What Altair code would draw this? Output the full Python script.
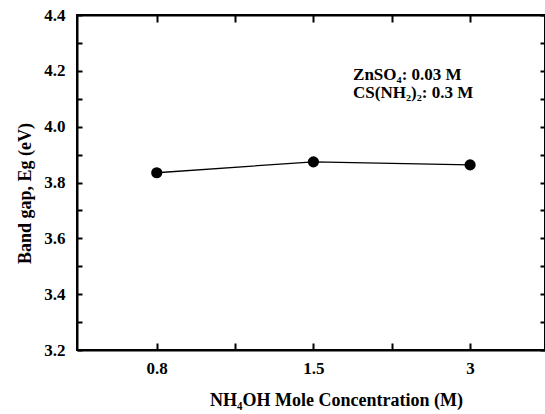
import json
import altair as alt
import pandas as pd

# ---- data ----
conc_labels = ["0.8", "1.5", "3"]          # NH4OH mole concentration (M), category labels
conc_index = [0, 1, 2]                     # equally spaced category positions
band_gap = [3.835, 3.874, 3.863]           # Eg (eV)

x_tick_values = [0, 0.5, 1, 1.5, 2]        # major at categories, minor halfway
y_tick_values = [3.2, 3.3, 3.4, 3.5, 3.6, 3.7, 3.8, 3.9, 4.0, 4.1, 4.2, 4.3, 4.4]

note_lines = ["ZnSO\u2084: 0.03 M", "CS(NH\u2082)\u2082: 0.3 M"]
note_x = [1.253, 1.253]
note_y = [4.167, 4.101]

x_title = "NH\u2084OH Mole Concentration (M)"
y_title = "Band gap, Eg (eV)"

W, H = 468, 335
FONT = "Liberation Serif"

df = pd.DataFrame({"idx": conc_index, "label": conc_labels, "eg": band_gap})
notes = pd.DataFrame({"nx": note_x, "ny": note_y, "text": note_lines})

xscale = alt.Scale(domain=[-0.509, 2.478], nice=False, zero=False)
yscale = alt.Scale(domain=[3.2, 4.4], nice=False, zero=False)

x_label_expr = ("datum.value % 1 === 0 ? " + json.dumps(conc_labels)
                + "[datum.value] : ''")
y_label_expr = "round(datum.value * 10) % 2 === 0 ? format(datum.value, '.1f') : ''"

# main line; its axes carry labels, titles and inward ticks (negative tick size)
line = alt.Chart(df).mark_line(color="black", strokeWidth=1.3).encode(
    x=alt.X("idx:Q", scale=xscale, axis=alt.Axis(
        orient="bottom", values=x_tick_values, labelExpr=x_label_expr,
        ticks=True, tickSize={"expr": "-7"}, tickWidth=2, labelPadding=17,
        domain=True, domainWidth=2,
        title=x_title, titleX=259, titleY=55, titleBaseline="alphabetic",
        titleAlign="center", titleFontSize=18, labelFontSize=17)),
    y=alt.Y("eg:Q", scale=yscale, axis=alt.Axis(
        orient="left", values=y_tick_values, labelExpr=y_label_expr,
        ticks=True, tickSize={"expr": "-5"}, tickWidth=2, labelPadding=17,
        domain=True, domainWidth=2,
        title=y_title, titleX=-52, titleY=178, titleBaseline="middle",
        titleAlign="center", titleAngle=-90, titleFontSize=18, labelFontSize=17)),
)

# markers; their axes give the inward ticks on the top and right edges
points = alt.Chart(df).mark_point(filled=True, color="black", size=125, opacity=1).encode(
    x=alt.X("idx:Q", scale=xscale, axis=alt.Axis(
        orient="top", values=x_tick_values, labels=False,
        ticks=True, tickSize={"expr": "-7"}, tickWidth=2,
        domain=True, domainWidth=2, title=None)),
    y=alt.Y("eg:Q", scale=yscale, axis=alt.Axis(
        orient="right", values=y_tick_values, labels=False,
        ticks=True, tickSize={"expr": "-5"}, tickWidth=2,
        domain=False, title=None)),
)

text = alt.Chart(notes).mark_text(
    align="left", baseline="alphabetic", font=FONT, fontWeight="bold",
    fontSize=17, color="black"
).encode(
    x=alt.X("nx:Q", scale=xscale, axis=None),
    y=alt.Y("ny:Q", scale=yscale, axis=None),
    text="text:N",
)

chart = alt.layer(line, points, text).resolve_axis(
    x="independent", y="independent"
).properties(
    width=W, height=H,
    padding={"left": 77, "top": 15, "right": 0, "bottom": 60},
    autosize="none",
    background="white",
).configure_view(
    stroke="black", strokeWidth=2
).configure_axis(
    grid=False, domainColor="black", tickColor="black",
    labelColor="black", titleColor="black",
    labelFont=FONT, titleFont=FONT, labelFontWeight="bold", titleFontWeight="bold",
)

chart.save("out.html", embed_options={"renderer": "svg", "actions": False})
